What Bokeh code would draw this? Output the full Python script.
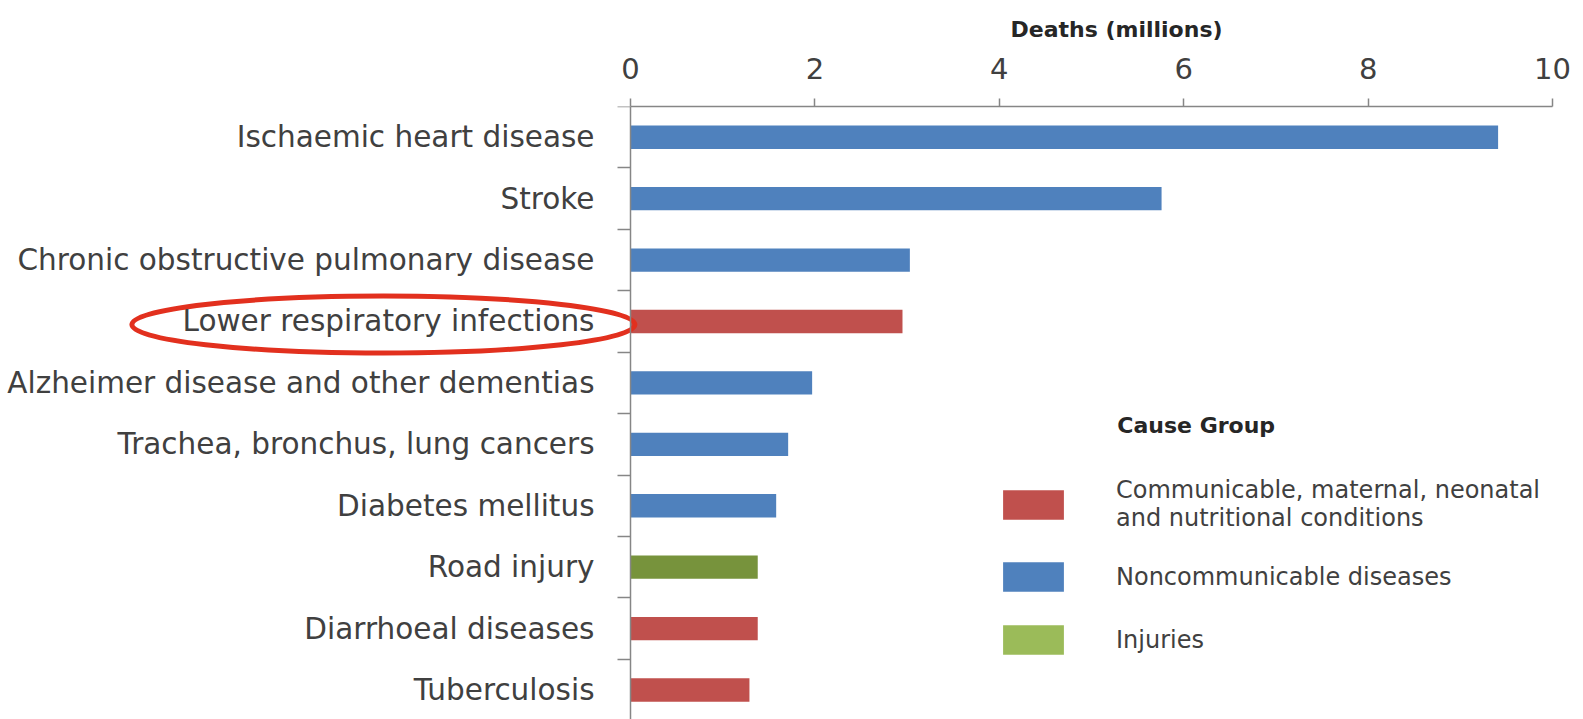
import numpy as np
from bokeh.plotting import figure
from bokeh.models import (Range1d, FixedTicker, Legend, LegendItem, Label,
                          ColumnDataSource)
from bokeh.embed import file_html
from bokeh.resources import INLINE

# ---------------- data ----------------
causes = ["Ischaemic heart disease", "Stroke",
          "Chronic obstructive pulmonary disease",
          "Lower respiratory infections",
          "Alzheimer disease and other dementias",
          "Trachea, bronchus, lung cancers", "Diabetes mellitus",
          "Road injury", "Diarrhoeal diseases", "Tuberculosis"]
deaths = [9.41, 5.76, 3.03, 2.95, 1.97, 1.71, 1.58, 1.38, 1.38, 1.29]
cause_group = [1, 1, 1, 0, 1, 1, 1, 2, 0, 0]
group_names = ["Communicable, maternal, neonatal\nand nutritional conditions",
               "Noncommunicable diseases", "Injuries"]
bar_colors = ["#C0504D", "#4F81BD", "#77933C"]
legend_colors = ["#C0504D", "#4F81BD", "#9BBB59"]
x_ticks = [0, 2, 4, 6, 8, 10]
x_title = "Deaths (millions)"
legend_title = "Cause Group"
highlight = "Lower respiratory infections"

FONT = "DejaVu Sans"
TXT = "#404040"
AX = "#868686"

pos = list(range(len(causes)))
src = ColumnDataSource(dict(
    y=pos, right=deaths,
    color=[bar_colors[g] for g in cause_group]))

# frame spans the whole width; the category axis sits at x = 0
p = figure(width=1583, height=719,
           x_range=Range1d(-6.833, 10), y_range=Range1d(9.48, -0.5),
           x_axis_location="above",
           output_backend="svg", toolbar_location=None,
           min_border_left=0, min_border_right=31,
           min_border_top=106, min_border_bottom=0,
           outline_line_color=None, background_fill_color="white")

# value-axis title, placed over the value scale
p.title.text = x_title
p.title.align = "left"
p.title.offset = 1010
p.title.text_font = FONT
p.title.text_font_style = "bold"
p.title.text_font_size = "22px"
p.title.text_color = "#262626"
p.title.standoff = 26

p.hbar(y="y", right="right", left=0, height=0.38, color="color",
       line_color=None, source=src)

# top (value) axis
xa = p.xaxis[0]
xa.ticker = FixedTicker(ticks=x_ticks, minor_ticks=[])
xa.bounds = (x_ticks[0], x_ticks[-1])
xa.major_label_text_font = FONT
xa.major_label_text_font_size = "29px"
xa.major_label_text_color = TXT
xa.major_label_standoff = 20
xa.major_tick_out = 8
xa.major_tick_in = 0
xa.axis_line_color = AX
xa.major_tick_line_color = AX
xa.axis_line_width = 1.5
xa.major_tick_line_width = 1.5

# left (category) axis, fixed at x = 0
ya = p.yaxis[0]
ya.fixed_location = 0
bounds = [i - 0.5 for i in range(len(causes) + 1)]
ya.ticker = FixedTicker(ticks=pos, minor_ticks=bounds)
ya.major_label_overrides = {i: c for i, c in enumerate(causes)}
ya.major_label_text_font = FONT
ya.major_label_text_font_size = "29.5px"
ya.major_label_text_color = TXT
ya.major_tick_out = 0
ya.major_tick_in = 0
ya.minor_tick_out = 13
ya.minor_tick_in = 0
ya.major_label_standoff = 23
ya.axis_line_color = AX
ya.minor_tick_line_color = AX
ya.axis_line_width = 1.5
ya.minor_tick_line_width = 1.5

p.xgrid.visible = False
p.ygrid.visible = False

# legend
items = []
for name, col in zip(group_names, legend_colors):
    r = p.hbar(y=[np.nan], right=[np.nan], left=[0], height=0.4, color=col,
               line_color=None)
    items.append(LegendItem(label=name, renderers=[r]))
legend = Legend(items=items, location=(995, 61),
                glyph_width=76, glyph_height=37, label_standoff=45,
                spacing=26, padding=10, margin=0,
                label_text_font=FONT, label_text_font_size="24px",
                label_text_line_height=1.38,
                label_text_color=TXT,
                border_line_color=None, background_fill_alpha=0)
p.add_layout(legend)

p.add_layout(Label(x=5.28, y=4.70, text=legend_title,
                   text_font=FONT, text_font_style="bold",
                   text_font_size="22px", text_color="#262626",
                   text_baseline="middle"))

# red highlight ellipse around one category label
hy = causes.index(highlight) + 0.05
p.ellipse(x=[-2.68], y=[hy], width=[503], height=[57],
          width_units="screen", height_units="screen",
          fill_alpha=0, line_color="#E2301E", line_width=5)

open("out.html", "w").write(file_html(p, INLINE))
